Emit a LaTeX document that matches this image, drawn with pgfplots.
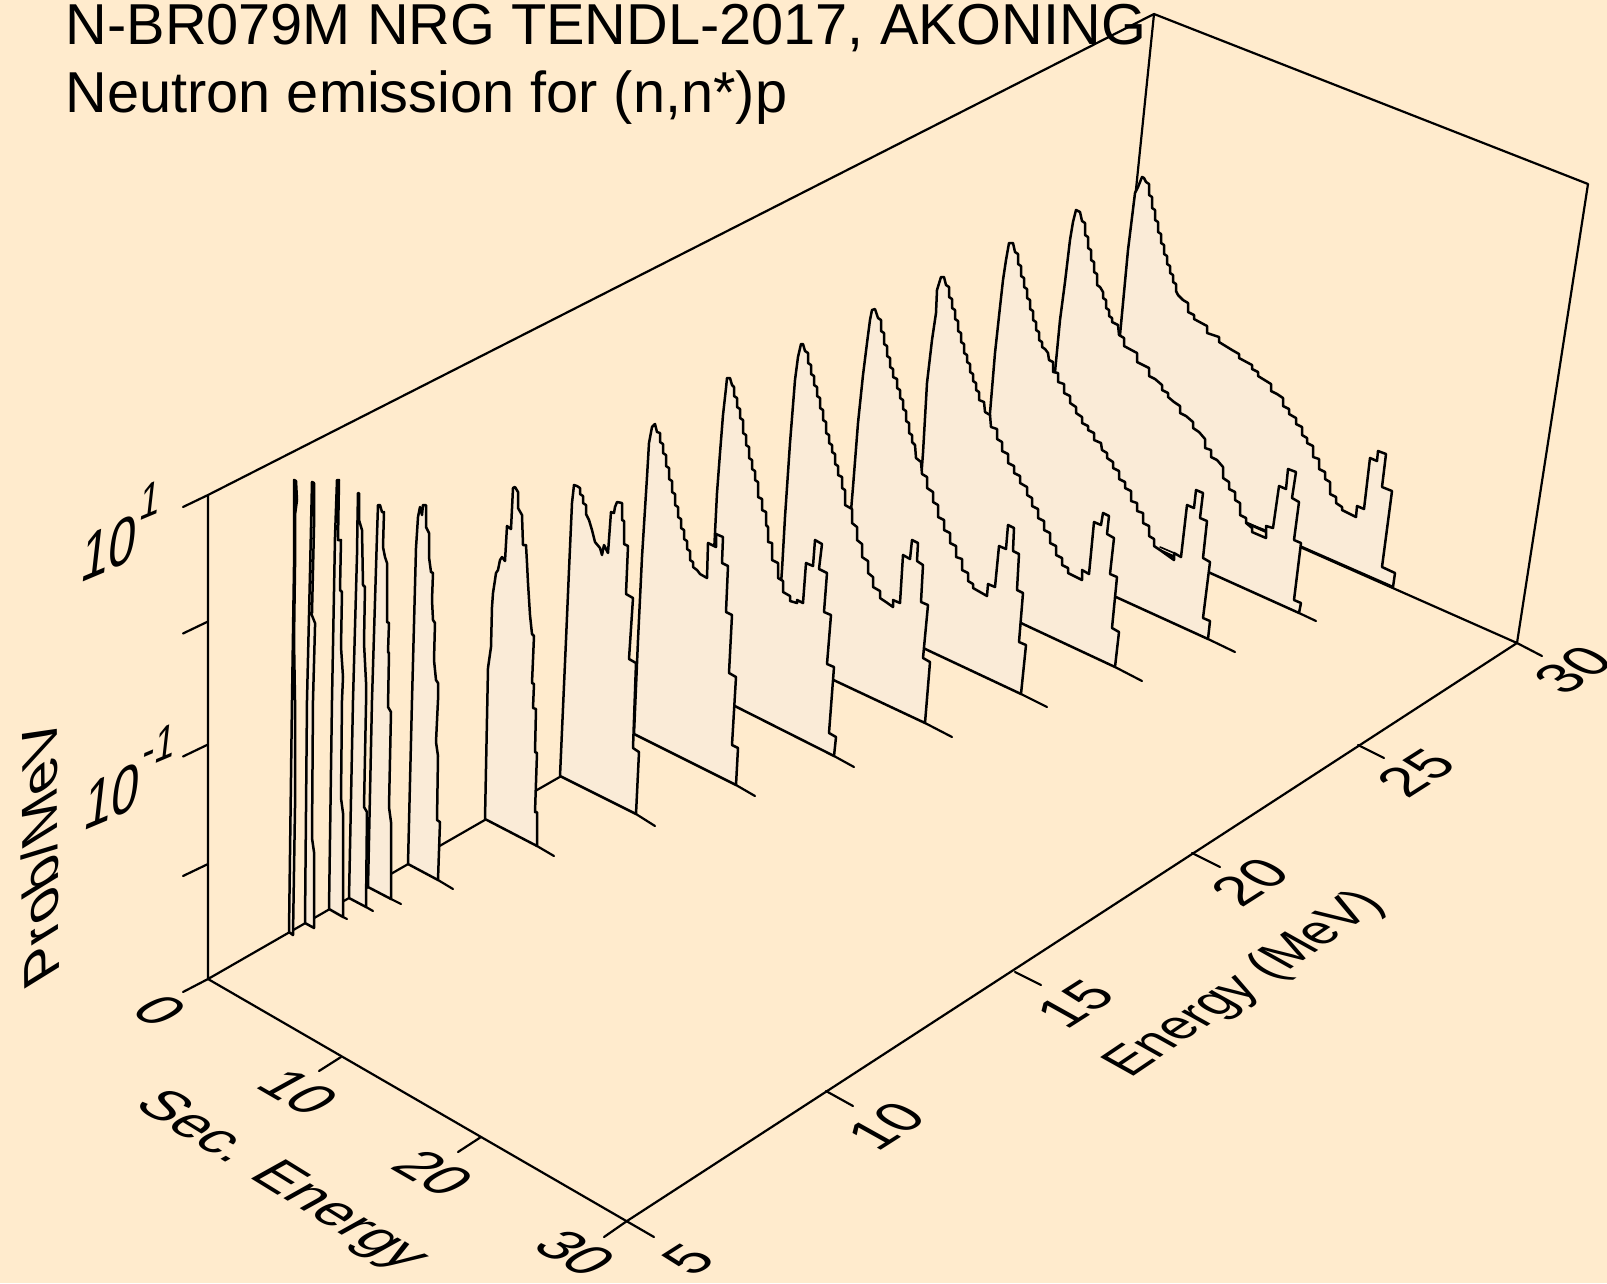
\documentclass[border=0pt]{standalone}
\usepackage{fontspec}
\setmainfont{Liberation Sans}
\usepackage{pgfplots}
\pgfplotsset{compat=1.18}
\definecolor{bgc}{RGB}{255,235,205}
\definecolor{fc}{RGB}{250,235,215}
\tikzset{
 big/.style={font=\fontsize{52}{52}\selectfont,inner sep=0pt,outer sep=0pt,anchor=base west},
 floorx/.style={big,cm={.94,-.58,.97,.54,(0,0)}},
 tickx/.style={big,cm={.95,-.55,1.0,.55,(0,0)}},
 ticky/.style={big,cm={.91,.58,-.97,.54,(0,0)}},
 floory/.style={big,cm={.80,.54,-.93,.52,(0,0)}},
 wallz/.style={big,cm={.95,.40,.15,1.32,(0,0)}},
}
\pgfplotsset{
 curve/.style={draw=black,fill=fc,line width=2.5pt,line join=round,line cap=round},
 ln/.style={draw=black,line width=2.2pt,line cap=round,line join=round},
}
\newcommand{\supo}[1]{\raisebox{29pt}{\fontsize{38}{38}\selectfont #1}}
\begin{document}
\begin{tikzpicture}
\path[use as bounding box,fill=bgc] (0pt,0pt) rectangle (1607pt,1283pt);
\begin{axis}[at={(0pt,0pt)},anchor=south west,scale only axis,width=1607pt,height=1283pt,
  xmin=0,xmax=1607,ymin=0,ymax=1283,y dir=reverse,axis lines=none,clip=true]
% frame
\addplot[ln] coordinates {(208,979)(208,495)(1154,14)(1588,184)(1517,643)(1108,462)(208,979)};
\addplot[ln] coordinates {(1154,14)(1108,462)};
\addplot[ln] coordinates {(208,979)(654,1237)};
\addplot[ln] coordinates {(627,1221)(1517,643)};
% z ticks
\addplot[ln] coordinates {(208,495)(183,507)};
\addplot[ln] coordinates {(208,621.5)(183,633.5)};
\addplot[ln] coordinates {(208,744.5)(183,756.5)};
\addplot[ln] coordinates {(208,864)(183,876)};
\addplot[ln] coordinates {(208,979)(183,992)};
% sec ticks
\addplot[ln] coordinates {(341,1057)(319,1071)};
\addplot[ln] coordinates {(481,1137)(458,1152)};
\addplot[ln] coordinates {(627,1221)(604,1237)};
% energy ticks
\addplot[ln] coordinates {(826,1091)(853,1106)};
\addplot[ln] coordinates {(1015,972)(1041,985)};
\addplot[ln] coordinates {(1192,853)(1220,867)};
\addplot[ln] coordinates {(1358,745)(1384,758)};
\addplot[ln] coordinates {(1517,643)(1542,656)};
% P
\addplot[curve] coordinates {(1108,462)(1120,335)(1128,250)(1135,193)(1138,187)(1142,177)(1144,178)(1146,182)(1149,184)(1149,195)(1152,197)(1152,208)(1155,210)(1155,220)(1158,222)(1158,232)(1161,234)(1161,243)(1164,245)(1164,254)(1167,256)(1167,264)(1170,266)(1170,273)(1173,275)(1173,282)(1176,284)(1176,291)(1178,295)(1183,300)(1188,303)(1188,312)(1194,315)(1194,319)(1207,326)(1207,333)(1219,337)(1219,342)(1232,350)(1239,354)(1239,358)(1252,365)(1252,369)(1258,372)(1258,376)(1271,384)(1271,391)(1277,394)(1283,398)(1283,406)(1289,409)(1289,414)(1296,418)(1296,424)(1302,427)(1302,435)(1307,438)(1307,443)(1313,446)(1313,457)(1319,459)(1319,469)(1325,472)(1325,479)(1330,482)(1330,494)(1336,497)(1336,503)(1342,507)(1342,510)(1356,517)(1357,506)(1364,509)(1370,458)(1377,461)(1378,451)(1386,454)(1382,487)(1392,491)(1382,567)(1395,573)(1393,587)(1108,462)};
% O
\addplot[curve] coordinates {(1044,498)(1055,372)(1060,320)(1065,282)(1070,240)(1073,222)(1076,210)(1080,212)(1082,221)(1085,223)(1085,235)(1088,237)(1088,248)(1091,250)(1091,260)(1094,262)(1094,272)(1097,274)(1097,285)(1100,287)(1103,292)(1103,298)(1106,300)(1106,308)(1109,310)(1109,316)(1112,318)(1112,322)(1118,325)(1119,335)(1124,338)(1124,346)(1137,353)(1137,362)(1149,368)(1149,376)(1155,379)(1162,385)(1162,390)(1168,393)(1168,397)(1174,402)(1180,406)(1180,413)(1186,416)(1193,422)(1193,428)(1199,432)(1205,439)(1205,448)(1211,450)(1211,457)(1217,460)(1223,467)(1223,478)(1229,482)(1229,489)(1235,492)(1235,500)(1240,503)(1240,515)(1246,518)(1246,523)(1252,528)(1252,532)(1266,538)(1266,526)(1273,528)(1279,486)(1286,489)(1288,469)(1296,472)(1292,498)(1299,502)(1294,540)(1301,543)(1294,600)(1301,603)(1299,613)(1044,498)};
\addplot[ln,line width=1.6pt] coordinates {(1246,523)(1265,530)};
% N
\addplot[curve] coordinates {(980,535)(990,413)(995,353)(1000,307)(1003,280)(1006,260)(1009,243)(1013,243)(1015,252)(1018,254)(1018,264)(1021,266)(1021,276)(1024,278)(1024,287)(1027,289)(1027,298)(1030,300)(1030,309)(1033,311)(1033,320)(1036,322)(1036,330)(1039,332)(1039,340)(1042,342)(1042,347)(1045,349)(1048,353)(1049,360)(1053,362)(1053,372)(1058,373)(1058,382)(1064,384)(1064,393)(1070,396)(1070,403)(1076,407)(1076,413)(1082,417)(1082,423)(1088,426)(1088,430)(1094,433)(1094,440)(1101,443)(1102,450)(1107,453)(1107,458)(1113,462)(1113,468)(1119,471)(1119,479)(1125,482)(1125,488)(1131,491)(1131,501)(1137,503)(1137,511)(1143,513)(1143,523)(1149,526)(1149,536)(1154,539)(1154,546)(1160,550)(1174,560)(1174,553)(1181,557)(1187,505)(1194,508)(1196,490)(1203,493)(1200,518)(1207,521)(1203,558)(1210,562)(1203,618)(1210,621)(1208,639)(980,535)};
\addplot[ln,line width=1.6pt] coordinates {(1160,547)(1174,553)};
% M
\addplot[curve] coordinates {(914,573)(923,453)(927,383)(932,340)(936,313)(937,290)(941,277)(944,277)(946,285)(949,287)(949,297)(952,299)(952,308)(955,310)(955,319)(958,321)(958,331)(961,333)(961,342)(964,344)(964,353)(967,355)(967,362)(970,364)(970,372)(973,374)(973,381)(976,383)(976,390)(979,392)(979,400)(984,402)(985,412)(990,415)(991,427)(997,429)(997,439)(1002,442)(1002,451)(1008,454)(1008,463)(1014,466)(1014,473)(1020,476)(1020,483)(1027,487)(1027,495)(1032,498)(1032,506)(1038,509)(1038,518)(1044,521)(1044,530)(1050,533)(1050,543)(1056,546)(1056,555)(1062,558)(1062,565)(1068,568)(1068,573)(1082,580)(1082,570)(1089,574)(1094,522)(1101,525)(1103,513)(1109,516)(1107,534)(1114,538)(1110,574)(1117,577)(1112,628)(1119,632)(1115,667)(914,573)};
% L
\addplot[curve] coordinates {(846.5,612)(850,523)(853,487)(858,423)(863,375)(867,343)(870,320)(872,310)(875,309)(878,318)(881,320)(881,331)(884,333)(884,344)(887,346)(887,356)(890,358)(890,367)(893,369)(893,377)(897,379)(897,388)(900,390)(900,398)(903,400)(903,409)(906,411)(906,421)(909,423)(909,433)(912,435)(912,442)(915,445)(916,458)(921,462)(922,474)(927,477)(927,488)(933,492)(933,502)(938,505)(938,517)(944,520)(944,530)(950,533)(950,543)(956,546)(956,557)(962,559)(962,570)(968,573)(968,581)(973,584)(973,588)(987,596)(988,584)(995,587)(999,546)(1006,549)(1008,525)(1014,528)(1013,551)(1019,554)(1017,590)(1023,593)(1019,642)(1026,645)(1021,694)(846.5,612)};
% K
\addplot[curve] coordinates {(776,653)(782,570)(785,517)(790,443)(795,380)(798,357)(801,344)(803,344)(805,351)(808,353)(808,363)(811,365)(811,374)(814,376)(814,385)(817,387)(817,396)(820,398)(820,408)(823,410)(823,420)(826,422)(826,433)(829,435)(829,443)(832,445)(832,452)(835,454)(835,464)(838,466)(838,475)(842,477)(842,488)(845,490)(845,505)(852,509)(852,523)(857,527)(857,540)(862,544)(862,557)(868,561)(868,573)(873,577)(873,587)(880,591)(880,598)(886,602)(893,607)(893,600)(900,603)(903,555)(910,559)(912,540)(918,543)(917,561)(923,565)(921,602)(928,605)(923,658)(930,662)(925,723)(776,653)};
% J
\addplot[curve] coordinates {(707,692)(715,533)(717,493)(720,453)(723,415)(726,388)(727,378)(730,378)(732,385)(734,387)(734,396)(737,398)(737,407)(740,409)(740,418)(743,420)(743,433)(746,435)(746,445)(749,447)(749,458)(752,460)(752,469)(755,471)(755,480)(758,482)(758,497)(762,499)(762,510)(766,512)(766,525)(768,527)(768,542)(772,543)(772,560)(778,563)(778,578)(783,581)(783,592)(790,596)(790,601)(797,603)(797,600)(803,603)(806,563)(813,566)(815,540)(822,544)(819,569)(827,573)(824,612)(831,615)(827,664)(834,667)(829,733)(836,737)(834,756)(707,692)};
% I
\addplot[curve] coordinates {(634,734)(638,640)(642,557)(647,477)(649,443)(652,427)(655,424)(657,432)(660,433)(660,442)(663,444)(663,453)(666,455)(666,466)(669,468)(669,479)(672,481)(672,492)(675,494)(675,505)(678,507)(678,517)(681,519)(681,528)(684,530)(684,539)(687,541)(687,549)(690,551)(690,560)(693,562)(693,567)(697,570)(700,574)(707,578)(708,543)(716,547)(716,534)(723,537)(722,563)(728,566)(726,612)(732,615)(729,673)(736,677)(732,745)(738,748)(736,785)(634,734)};
% H
\addplot[curve] coordinates {(560,776)(566,640)(569,570)(572,503)(574,485)(577,486)(580,488)(580,494)(583,496)(583,503)(586,505)(586,514)(589,520)(592,530)(595,542)(600,548)(602,555)(604,545)(608,553)(611,512)(614,513)(615,507)(617,502)(622,503)(622,520)(624,521)(624,544)(628,546)(626,594)(633,598)(629,659)(636,663)(633,748)(639,752)(636,814)(560,776)};
% G
\addplot[curve] coordinates {(485,819)(488,668)(491,647)(492,607)(493,593)(495,580)(496,573)(498,570)(500,560)(502,557)(505,561)(507,526)(511,529)(513,488)(515,487)(518,492)(518,508)(522,515)(523,545)(526,545)(527,563)(528,583)(530,615)(532,634)(534,636)(532,683)(534,684)(533,708)(536,709)(535,752)(537,753)(535,812)(537,812)(537,846)(485,819)};
% F
\addplot[curve] coordinates {(408,864)(412,700)(416,548)(418,517)(420,507)(422,515)(423,505)(426,505)(426,527)(429,533)(429,557)(431,572)(433,573)(432,600)(433,620)(435,623)(434,660)(436,680)(438,683)(438,700)(436,742)(438,756)(437,820)(440,822)(438,880)(408,864)};
% E
\addplot[curve] coordinates {(368,887)(372,700)(377,535)(378,505)(380,505)(382,512)(384,512)(383,547)(385,557)(387,563)(387,622)(389,623)(388,652)(389,653)(388,707)(391,712)(389,807)(391,822)(391,899)(368,887)};
% D
\addplot[curve] coordinates {(349,898)(353,700)(357,555)(357.5,520)(358,493)(359,493)(359,520)(362,530)(363,585)(365,587)(364,643)(366,682)(366,705)(364,807)(367,812)(366,907)(349,898)};
% C
\addplot[curve] coordinates {(329,909)(332,700)(335,537)(337,480)(339,480)(338,540)(341,540)(340,590)(342,592)(341,647)(343,677)(342,700)(341,798)(343,813)(343,917)(329,909)};
% B
\addplot[curve] coordinates {(305,923)(307,700)(310,573)(312,482)(314,483)(314,527)(312,613)(311,613)(315,623)(315,627)(313,700)(312,838)(314,852)(314,928)(305,923)};
% A
\addplot[curve] coordinates {(289,932)(292,700)(294,567)(294,480)(296,481)(297,500)(295,515)(295,567)(294,640)(295,700)(295,808)(293,935)(289,932)};
% stubs
\addplot[ln] coordinates {(343,917)(347,919)};
\addplot[ln] coordinates {(366,907)(373,911)};
\addplot[ln] coordinates {(391,899)(401,904)};
\addplot[ln] coordinates {(438,880)(453,889)};
\addplot[ln] coordinates {(537,846)(554,856)};
\addplot[ln] coordinates {(636,814)(655,826)};
\addplot[ln] coordinates {(736,785)(755,796)};
\addplot[ln] coordinates {(834,756)(854,767)};
\addplot[ln] coordinates {(925,723)(952,737)};
\addplot[ln] coordinates {(1021,694)(1047,707)};
\addplot[ln] coordinates {(1115,667)(1142,681)};
\addplot[ln] coordinates {(1208,639)(1235,652)};
\addplot[ln] coordinates {(1299,613)(1316,621)};
% text
\node[font=\fontsize{57.7}{57.7}\selectfont,anchor=base west,inner sep=0pt] at (axis cs:65.5,44) {N-BR079M NRG TENDL-2017, AKONING};
\node[font=\fontsize{57.7}{57.7}\selectfont,anchor=base west,inner sep=0pt] at (axis cs:65.5,112) {Neutron emission for (n,n*)p};
\node[wallz] at (axis cs:79,583) {10\supo{1}};
\node[wallz] at (axis cs:82,831) {10\supo{-1}};
\node[big,cm={-.01,1.12,-.97,-.6,(0,0)}] at (axis cs:59,972) {Prob/MeV};
\node[tickx] at (axis cs:128,1012) {0};
\node[tickx] at (axis cs:253,1086) {10};
\node[tickx] at (axis cs:388,1167) {20};
\node[tickx] at (axis cs:530,1247) {30};
\node[floorx] at (axis cs:132,1105) {Sec. Energy};
\node[ticky] at (axis cs:692,1277) {5};
\node[ticky] at (axis cs:877,1152) {10};
\node[ticky] at (axis cs:1066,1030) {15};
\node[ticky] at (axis cs:1241,908) {20};
\node[ticky] at (axis cs:1407,799) {25};
\node[ticky] at (axis cs:1564,696) {30};
\node[floory] at (axis cs:1130,1078) {Energy (MeV)};
\end{axis}
\end{tikzpicture}
\end{document}
